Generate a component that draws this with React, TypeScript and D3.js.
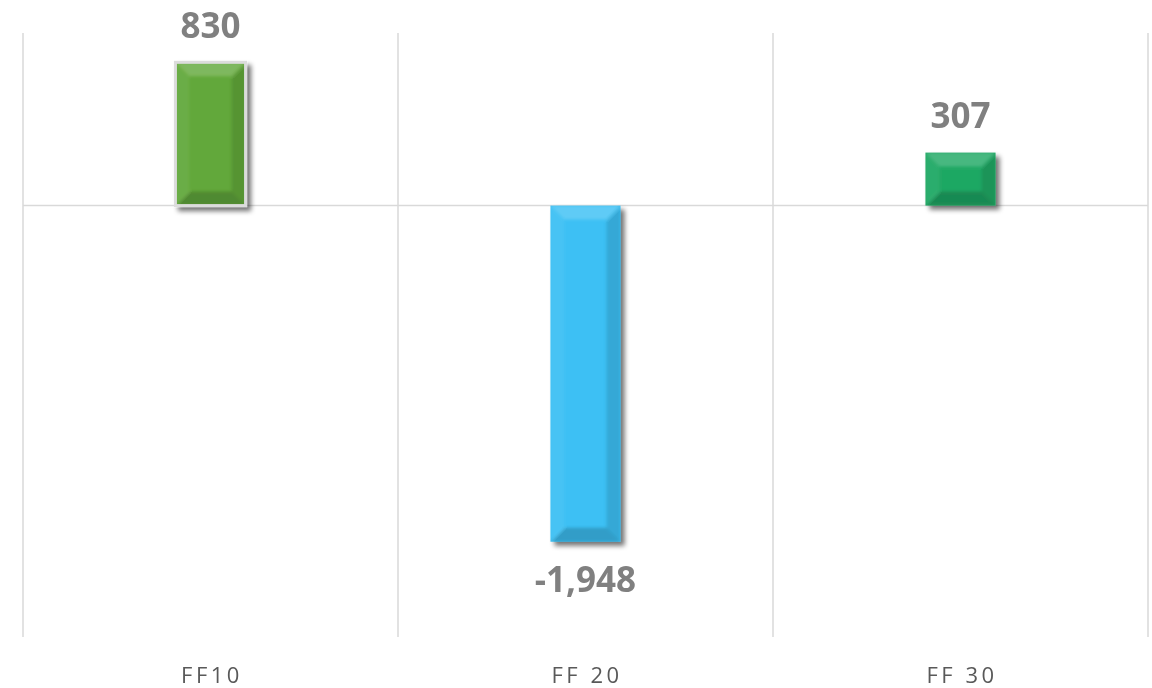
import React from "react";
import * as d3 from "d3";

const categories = ["FF10", "FF 20", "FF 30"];
const values = [830, -1948, 307];
const labels = ["830", "-1,948", "307"];
const colors = ["#62a83a", "#3cc0f4", "#1fa864"];

const W = 1152;
const H = 688;

export default function App() {
  const x = d3.scaleBand<string>().domain(categories).range([23, 1148]).padding(0);
  const y = d3.scaleLinear().domain([-2500, 1000]).range([637, 33]);
  const barW = x.bandwidth() * 0.187;
  const y0 = y(0);

  const bars = categories.map((c, i) => {
    const v = values[i];
    const cx = (x(c) as number) + x.bandwidth() / 2;
    const x0 = cx - barW / 2;
    const x1 = cx + barW / 2;
    const top = Math.min(y(v), y0);
    const bot = Math.max(y(v), y0);
    const b = Math.min(14, (bot - top) / 2);
    return { c, v, i, cx, x0, x1, top, bot, b };
  });

  return (
    <svg width={W} height={H} style={{ position: "absolute", left: 0, top: 0, background: "#fff" }}>
      <defs>
        <filter id="sh" x="-30%" y="-30%" width="160%" height="160%">
          <feGaussianBlur in="SourceAlpha" stdDeviation="2.5" />
          <feOffset dx="4" dy="4" result="o" />
          <feComponentTransfer>
            <feFuncA type="linear" slope="0.55" />
          </feComponentTransfer>
          <feMerge>
            <feMergeNode />
            <feMergeNode in="SourceGraphic" />
          </feMerge>
        </filter>
        <filter id="soft">
          <feGaussianBlur stdDeviation="1.5" />
        </filter>
      </defs>
      {/* gridlines */}
      {categories.map((c) => (
        <line key={c} x1={x(c) as number} x2={x(c) as number} y1={33} y2={637} stroke="#d9d9d9" strokeWidth={1.5} />
      ))}
      <line x1={1148} x2={1148} y1={33} y2={637} stroke="#d9d9d9" strokeWidth={1.5} />
      <line x1={23} x2={1148} y1={y0} y2={y0} stroke="#d9d9d9" strokeWidth={1.5} />

      {bars.map((d) => {
        const { x0, x1, top, bot, b, i } = d;
        const clipId = "clip" + i;
        return (
          <g key={d.c} filter="url(#sh)">
            <clipPath id={clipId}>
              <rect x={x0} y={top} width={x1 - x0} height={bot - top} />
            </clipPath>
            <rect x={x0} y={top} width={x1 - x0} height={bot - top} fill={colors[i]} />
            <g clipPath={`url(#${clipId})`} filter="url(#soft)">
              <polygon points={`${x0},${top} ${x1},${top} ${x1 - b},${top + b} ${x0 + b},${top + b}`} fill="#fff" opacity={0.18} />
              <polygon points={`${x0},${top} ${x0 + b},${top + b} ${x0 + b},${bot - b} ${x0},${bot}`} fill="#fff" opacity={0.06} />
              <polygon points={`${x1},${top} ${x1 - b},${top + b} ${x1 - b},${bot - b} ${x1},${bot}`} fill="#000" opacity={0.12} />
              <polygon points={`${x0},${bot} ${x0 + b},${bot - b} ${x1 - b},${bot - b} ${x1},${bot}`} fill="#000" opacity={0.18} />
            </g>
            {i === 0 && (
              <rect x={x0} y={top} width={x1 - x0} height={bot - top} fill="none" stroke="#dcdcdc" strokeWidth={3} />
            )}
          </g>
        );
      })}

      {bars.map((d) => (
        <text key={"l" + d.c} x={d.cx} y={d.v >= 0 ? d.top - 24.5 : d.bot + 50}
          textAnchor="middle" fontFamily="'Open Sans', sans-serif" fontWeight={700}
          fontSize={35} fill="#808080">
          {labels[d.i]}
        </text>
      ))}

      {categories.map((c) => (
        <text key={"c" + c} x={(x(c) as number) + x.bandwidth() / 2 + 1.5} y={683} textAnchor="middle"
          fontFamily="'Open Sans', sans-serif" fontSize={22} letterSpacing={3.5} fill="#595959">
          {c}
        </text>
      ))}
    </svg>
  );
}
